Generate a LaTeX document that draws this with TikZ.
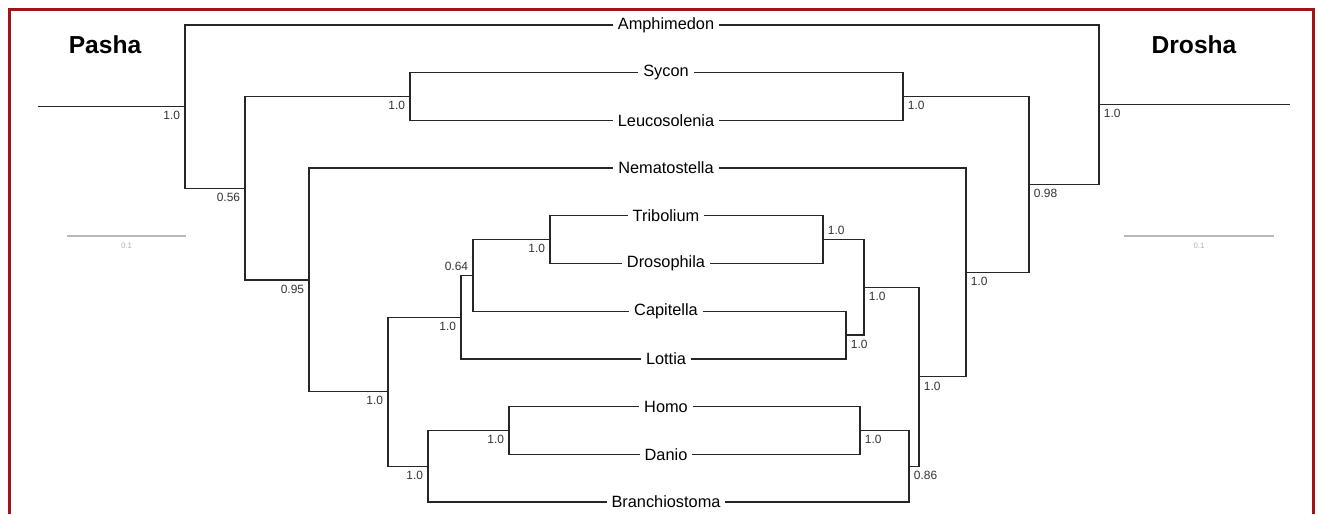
\documentclass[tikz,border=0pt]{standalone}
\usepackage{fontspec}
\setmainfont{Liberation Sans}
\usepackage{tikz}
\definecolor{framered}{RGB}{158,20,24}

\begin{document}
\begin{tikzpicture}[x=0.02cm,y=-0.02cm,line cap=rect,
  branch/.style={line width=0.75pt,black!85},
  taxon/.style={font=\fontsize{9.3}{11}\selectfont,inner xsep=3pt,inner ysep=1pt},
  title/.style={font=\fontsize{14}{16}\selectfont\bfseries},
  supp/.style={font=\fontsize{6.8}{8}\selectfont,inner sep=2.6pt,text=black!80},
  scalebar/.style={gray!55,line width=0.6pt}]
\useasboundingbox (0,0) rectangle (1318,514);
\draw[framered,line width=1.7pt,line cap=butt] (9.5,514) -- (9.5,9.5) -- (1313.5,9.5) -- (1313.5,514);
\node[title] (pasha) at (105,45) {Pasha};
\node[title] (drosha) at (1194,45) {Drosha};
\foreach \n/\t [count=\i from 0] in {amph/Amphimedon,syc/Sycon,leu/Leucosolenia,nem/Nematostella,tri/Tribolium,dro/Drosophila,cap/Capitella,lot/Lottia,hom/Homo,dan/Danio,bra/Branchiostoma}
  \node[taxon] (\n) at (666,{25+47.7*\i}) {\t};
\coordinate (lroot) at (39,106.6);
\coordinate (lA) at (185,106.6);
\coordinate (lB) at (245,188.2);
\coordinate (lC) at (410,96.6);
\coordinate (lD) at (309,279.9);
\coordinate (lE) at (388,391.7);
\coordinate (lF) at (428,466.2);
\coordinate (lG) at (509,430.5);
\coordinate (lH) at (461,317.2);
\coordinate (lI) at (473,275.4);
\coordinate (lJ) at (550,239.7);
\coordinate (rroot) at (1289,104.7);
\coordinate (rA) at (1099,104.7);
\coordinate (rB) at (1029,184.5);
\coordinate (rC) at (903,96.6);
\coordinate (rD) at (966,272.4);
\coordinate (rE) at (919,376.8);
\coordinate (rF) at (909,466.2);
\coordinate (rG) at (860,430.5);
\coordinate (rH) at (864,287.4);
\coordinate (rJ) at (823,239.7);
\coordinate (rK) at (846,335.1);
\draw[branch] (lroot) -- (lA) (lA) |- (amph.west) (lA) |- (lB)
  (lB) |- (lC) (lB) |- (lD) (lC) |- (syc.west) (lC) |- (leu.west)
  (lD) |- (nem.west) (lD) |- (lE) (lE) |- (lH) (lE) |- (lF)
  (lH) |- (lI) (lH) |- (lot.west) (lI) |- (lJ) (lI) |- (cap.west)
  (lJ) |- (tri.west) (lJ) |- (dro.west)
  (lF) |- (lG) (lF) |- (bra.west) (lG) |- (hom.west) (lG) |- (dan.west);
\draw[branch] (rroot) -- (rA) (rA) |- (amph.east) (rA) |- (rB)
  (rB) |- (rC) (rB) |- (rD) (rC) |- (syc.east) (rC) |- (leu.east)
  (rD) |- (nem.east) (rD) |- (rE) (rE) |- (rH) (rE) |- (rF)
  (rH) |- (rJ) (rH) |- (rK) (rJ) |- (tri.east) (rJ) |- (dro.east)
  (rK) |- (cap.east) (rK) |- (lot.east)
  (rF) |- (rG) (rF) |- (bra.east) (rG) |- (hom.east) (rG) |- (dan.east);
\foreach \c/\v in {lA/1.0,lB/0.56,lC/1.0,lD/0.95,lE/1.0,lF/1.0,lG/1.0,lH/1.0,lJ/1.0}
  \node[supp,below left] (s\c) at (\c) {\v};
\node[supp,above left] (slI) at (lI) {0.64};
\foreach \c/\v in {rA/1.0,rB/0.98,rC/1.0,rD/1.0,rE/1.0,rF/0.86,rG/1.0,rH/1.0,rK/1.0}
  \node[supp,below right] (s\c) at (\c) {\v};
\node[supp,above right] (srJ) at (rJ) {1.0};
\draw[scalebar] (68,236) -- node[below=0.5pt,font=\fontsize{4.5}{5}\selectfont,text=gray!60] {0.1} (185,236);
\draw[scalebar] (1125,236) -- node[below=0.5pt,font=\fontsize{4.5}{5}\selectfont,text=gray!60] {0.1} (1273,236);
\end{tikzpicture}
\end{document}
